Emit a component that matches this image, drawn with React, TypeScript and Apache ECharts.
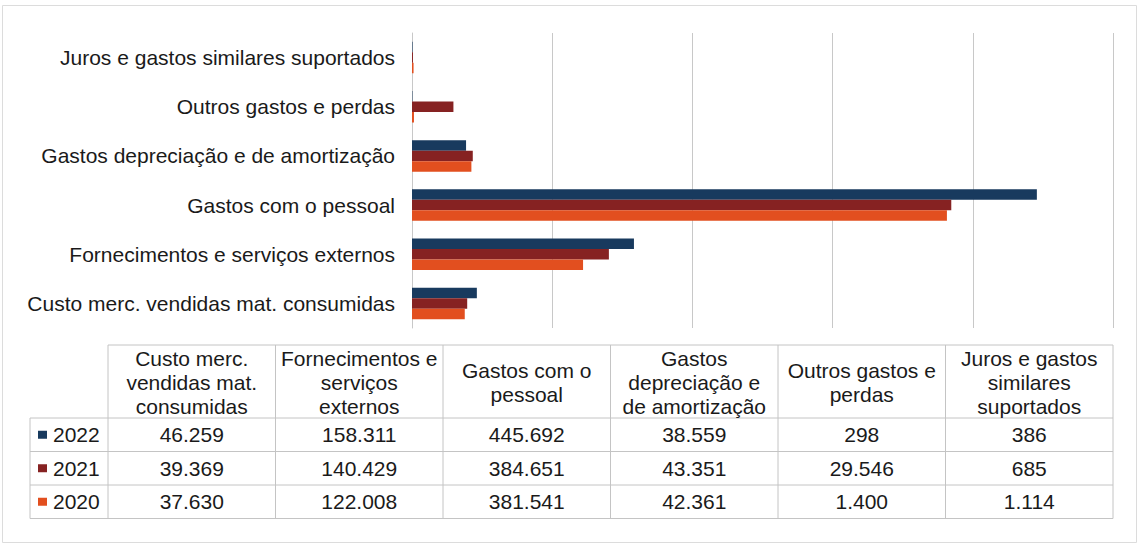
import React, { useEffect, useRef } from "react";
import * as echarts from "echarts";

const categories = [
  "Custo merc. vendidas mat. consumidas",
  "Fornecimentos e serviços externos",
  "Gastos com o pessoal",
  "Gastos depreciação e de amortização",
  "Outros gastos e perdas",
  "Juros e gastos similares suportados",
];
const tableHeaders = [
  "Custo merc.\nvendidas mat.\nconsumidas",
  "Fornecimentos e\nserviços\nexternos",
  "Gastos com o\npessoal",
  "Gastos\ndepreciação e\nde amortização",
  "Outros gastos e\nperdas",
  "Juros e gastos\nsimilares\nsuportados",
];
const years = ["2022", "2021", "2020"];
const values2022 = [46259, 158311, 445692, 38559, 298, 386];
const values2021 = [39369, 140429, 384651, 43351, 29546, 685];
const values2020 = [37630, 122008, 381541, 42361, 1400, 1114];
const seriesValues = [values2022, values2021, values2020];
const colors = ["#183a5e", "#862222", "#e24f1f"];

const fmt = (v: number) => String(v).replace(/\B(?=(\d{3})+(?!\d))/g, ".");

export default function App() {
  const ref = useRef<HTMLDivElement>(null);
  useEffect(() => {
    document.body.style.margin = "0";
    const chart = echarts.init(ref.current!, null, { renderer: "svg" });
    const font = "Liberation Sans, Arial, sans-serif";
    const fs = 21;

    // table layout
    const legendLeft = 30;
    const tableLeft = 108;
    const tableRight = 1113;
    const colW = (tableRight - tableLeft) / categories.length;
    const headerTop = 345;
    const headerH = 73;
    const rowH = 33.5;
    const rowsTop = headerTop + headerH;
    const tableBottom = rowsTop + rowH * years.length;
    const lineColor = "#c4c4c4";

    const g: any[] = [];
    g.push({
      type: "rect",
      shape: { x: 2.5, y: 5.5, width: 1134, height: 537 },
      style: { fill: "none", stroke: "#dcdcdc", lineWidth: 1 },
      silent: true,
    });
    g.push({ type: "line", shape: { x1: tableLeft, y1: headerTop, x2: tableRight, y2: headerTop }, style: { stroke: lineColor, lineWidth: 1 } });
    for (let r = 0; r <= years.length; r++) {
      const y = rowsTop + r * rowH;
      g.push({ type: "line", shape: { x1: legendLeft, y1: y, x2: tableRight, y2: y }, style: { stroke: lineColor, lineWidth: 1 } });
    }
    g.push({ type: "line", shape: { x1: legendLeft, y1: rowsTop, x2: legendLeft, y2: tableBottom }, style: { stroke: lineColor, lineWidth: 1 } });
    for (let c = 0; c <= categories.length; c++) {
      const x = tableLeft + c * colW;
      g.push({ type: "line", shape: { x1: x, y1: headerTop, x2: x, y2: tableBottom }, style: { stroke: lineColor, lineWidth: 1 } });
    }
    tableHeaders.forEach((h, c) => {
      g.push({
        type: "text",
        x: tableLeft + c * colW + colW / 2,
        y: headerTop + headerH / 2 + 1,
        style: { text: h, font: `${fs}px ${font}`, fill: "#1a1a1a", align: "center", verticalAlign: "middle", lineHeight: 24 },
      });
    });
    years.forEach((yr, r) => {
      const cy = rowsTop + r * rowH + rowH / 2;
      g.push({ type: "rect", shape: { x: 38, y: cy - 4, width: 9, height: 8 }, style: { fill: colors[r] } });
      g.push({
        type: "text",
        x: 53,
        y: cy,
        style: { text: yr, font: `${fs}px ${font}`, fill: "#1a1a1a", align: "left", verticalAlign: "middle" },
      });
      seriesValues[r].forEach((v, c) => {
        g.push({
          type: "text",
          x: tableLeft + c * colW + colW / 2,
          y: cy,
          style: { text: fmt(v), font: `${fs}px ${font}`, fill: "#1a1a1a", align: "center", verticalAlign: "middle" },
        });
      });
    });

    chart.setOption({
      animation: false,
      backgroundColor: "#ffffff",
      grid: { left: 412, right: 27, top: 33, height: 295, containLabel: false },
      xAxis: {
        type: "value",
        min: 0,
        max: 500000,
        interval: 100000,
        axisLabel: { show: false },
        axisLine: { show: false },
        axisTick: { show: false },
        splitLine: { show: true, lineStyle: { color: "#c8c8c8", width: 1 } },
      },
      yAxis: {
        type: "category",
        data: categories,
        axisLine: { show: true, lineStyle: { color: "#c8c8c8" } },
        axisTick: { show: false },
        axisLabel: { fontSize: fs, fontFamily: font, color: "#1a1a1a", margin: 17 },
      },
      series: years.map((yr, i) => ({
        name: yr,
        type: "bar",
        data: seriesValues[i],
        itemStyle: { color: colors[i] },
        barGap: "0%",
        barCategoryGap: "36%",
      })),
      graphic: g,
    });
    return () => chart.dispose();
  }, []);
  return <div ref={ref} style={{ width: 1140, height: 545 }} />;
}
